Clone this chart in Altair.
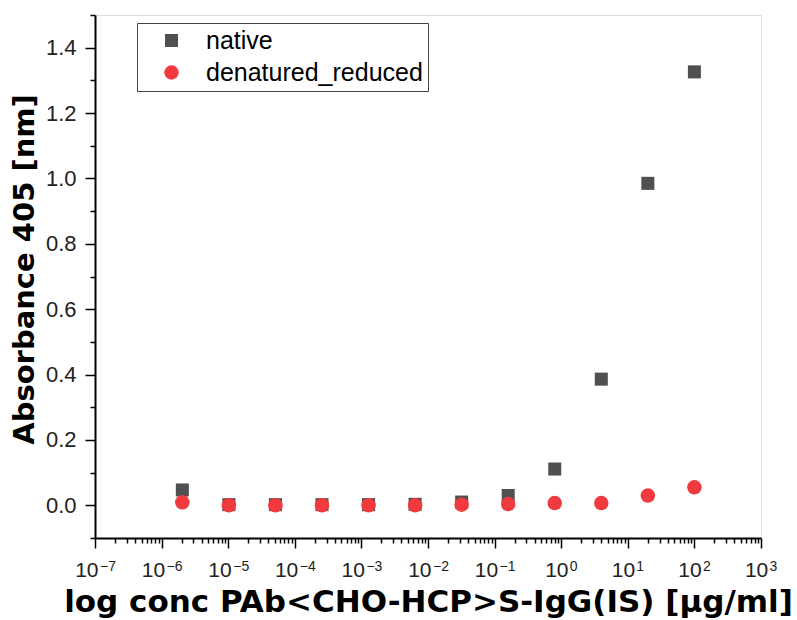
import altair as alt
import pandas as pd

# concentrations (µg/ml)
conc = [100, 20, 4, 0.8, 0.16, 0.032, 0.0064, 0.00128, 0.000256, 5.12e-5, 1.024e-5, 2.048e-6]
native = [1.326, 0.985, 0.386, 0.111, 0.030, 0.010, 0.003, 0.002, 0.002, 0.002, 0.002, 0.047]
denatured_reduced = [0.055, 0.030, 0.007, 0.007, 0.004, 0.002, 0.000, 0.000, 0.000, 0.000, 0.000, 0.009]
series = ["native", "denatured_reduced"]
colors = ["#505050", "#f03a3d"]
shapes = ["square", "circle"]
sizes = [170, 210]

x_exponents = list(range(-7, 4))
x_ticks = []
for k in range(-7, 3):
    for m in range(1, 10):
        x_ticks.append(m * 10.0 ** k)
x_ticks.append(1e3)
y_ticks = [round(-0.1 + 0.1 * i, 1) for i in range(17)]

rows = []
for c, v in zip(conc, native):
    rows.append({"conc": c, "abs": v, "series": "native"})
for c, v in zip(conc, denatured_reduced):
    rows.append({"conc": c, "abs": v, "series": "denatured_reduced"})
df = pd.DataFrame(rows)

lab = pd.DataFrame({
    "conc": [10.0 ** k for k in x_exponents],
    "base": ["10"] * len(x_exponents),
    "exp": [str(k).replace("-", "\u2212") for k in x_exponents],
    "neg": [k < 0 for k in x_exponents],
})
lab_neg = lab[lab["neg"]]
lab_pos = lab[~lab["neg"]]

x_major_test = "abs(log(datum.value)/LN10 - round(log(datum.value)/LN10)) < 1e-6"
y_major_test = "abs(round(datum.value*10)) % 2 == 0"
xscale = alt.Scale(type="log", domain=[1e-7, 1e3], nice=False)
H = 523

xaxis = alt.Axis(
    values=x_ticks, labels=False,
    tickSize={"condition": {"test": x_major_test, "value": 10}, "value": 5},
    title="log conc PAb<CHO-HCP>S-IgG(IS) [µg/ml]",
    titleFont="DejaVu Sans", titleFontWeight="bold", titleFontSize=31,
    titleColor="black", titleBaseline="alphabetic", titleY=73,
    domainColor="black", domainWidth=2, tickColor="black", tickWidth=1.5,
    grid=False,
)

points = alt.Chart(df).mark_point(filled=True, opacity=1, strokeWidth=0).encode(
    x=alt.X("conc:Q", scale=xscale, axis=xaxis),
    y=alt.Y("abs:Q",
            scale=alt.Scale(domain=[-0.1, 1.5], nice=False, zero=False),
            axis=alt.Axis(
                values=y_ticks,
                labelExpr=f"{y_major_test} ? format(datum.value, '.1f') : ''",
                tickSize={"condition": {"test": y_major_test, "value": 10}, "value": 5},
                labelOverlap=False, labelFlush=False, labelBound=False,
                labelFont="Liberation Sans", labelFontSize=22, labelColor="#222222",
                labelPadding=9,
                title="Absorbance 405 [nm]",
                titleFont="DejaVu Sans", titleFontWeight="bold", titleFontSize=29,
                titleColor="black", titleBaseline="alphabetic", titleAngle=270,
                titleX=-62, titleY=254,
                domainColor="black", domainWidth=2, tickColor="black", tickWidth=1.5,
                grid=False,
            )),
    color=alt.Color("series:N", scale=alt.Scale(domain=series, range=colors),
                    legend=alt.Legend(title=None, orient="none", legendX=42, legendY=8,
                                      strokeColor="#444444", padding=5, fillColor="white",
                                      symbolOffset=17, labelOffset=22, rowPadding=6,
                                      labelFont="Liberation Sans", labelFontSize=25,
                                      labelLimit=500,
                                      labelColor="black", symbolStrokeWidth=0)),
    shape=alt.Shape("series:N", scale=alt.Scale(domain=series, range=shapes)),
    size=alt.Size("series:N", scale=alt.Scale(domain=series, range=sizes)),
    order=alt.Order("ord:Q"),
).transform_calculate(
    ord="datum.series == 'native' ? 0 : 1"
)


def label_layer(data, field, dx, size, ypos, align):
    return alt.Chart(data).mark_text(
        align=align, baseline="alphabetic", dx=dx, fontSize=size,
        font="Liberation Sans", color="#222222"
    ).encode(
        x=alt.X("conc:Q", scale=xscale, axis=xaxis),
        y=alt.value(ypos),
        text=alt.Text(f"{field}:N"),
    )


base_neg = label_layer(lab_neg, "base", 3.5, 21, H + 39, "right")
exp_neg = label_layer(lab_neg, "exp", 5, 14, H + 33, "left")
base_pos = label_layer(lab_pos, "base", 7.3, 21, H + 39, "right")
exp_pos = label_layer(lab_pos, "exp", 8.5, 14, H + 33, "left")

chart = alt.layer(points, base_neg, exp_neg, base_pos, exp_pos).properties(
    width=666, height=H,
    padding={"left": 95, "top": 15, "right": 36, "bottom": 82},
    autosize=alt.AutoSizeParams(type="none"),
).configure_view(strokeWidth=0).configure(background="white")

chart.save("out.html", embed_options={"renderer": "svg", "actions": False})
